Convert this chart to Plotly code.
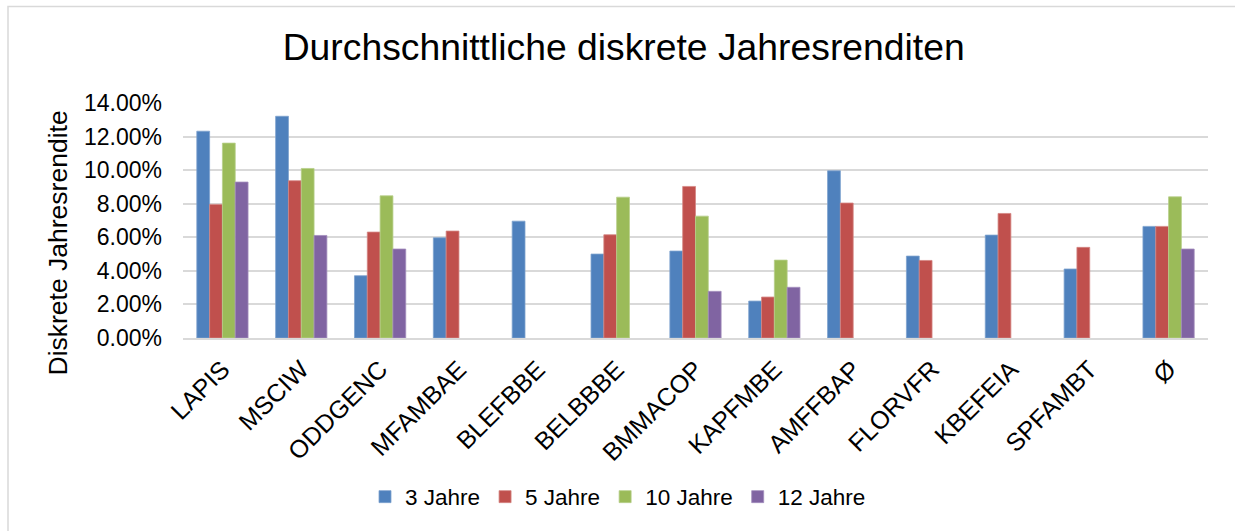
import plotly.graph_objects as go

categories = ["LAPIS", "MSCIW", "ODDGENC", "MFAMBAE", "BLEFBBE", "BELBBBE",
              "BMMACOP", "KAPFMBE", "AMFFBAP", "FLORVFR", "KBEFEIA", "SPFAMBT", "Ø"]

jahre_3 = [0.1232, 0.1321, 0.0371, 0.0597, 0.0696, 0.0500, 0.0518, 0.0220, 0.0996, 0.0488, 0.0613, 0.0411, 0.0665]
jahre_5 = [0.0796, 0.0937, 0.0631, 0.0637, None, 0.0615, 0.0903, 0.0244, 0.0804, 0.0462, 0.0742, 0.0540, 0.0665]
jahre_10 = [0.1161, 0.1010, 0.0847, None, None, 0.0839, 0.0726, 0.0464, None, None, None, None, 0.0841]
jahre_12 = [0.0929, 0.0611, 0.0530, None, None, None, 0.0278, 0.0302, None, None, None, None, 0.0530]

series_names = ["3 Jahre", "5 Jahre", "10 Jahre", "12 Jahre"]
series_values = [jahre_3, jahre_5, jahre_10, jahre_12]
colors = ["#4F81BD", "#C0504D", "#9BBB59", "#8064A2"]
edge_colors = ["#7EA2CE", "#D48583", "#B8CF8A", "#A28DBD"]

y_ticks = [0, 0.02, 0.04, 0.06, 0.08, 0.10, 0.12, 0.14]

FONT = "Liberation Sans, Arial, sans-serif"

fig = go.Figure()
for name, vals, c, ec in zip(series_names, series_values, colors, edge_colors):
    fig.add_trace(go.Bar(
        name=name, x=categories, y=vals,
        marker=dict(color=c, line=dict(color=ec, width=0.8)),
    ))

W, H = 1235, 531
L, R, T, B = 183, 27, 103, 193
pw, ph = W - L - R, H - T - B

def px_x(p):
    return (p - L) / pw

def px_y(p):
    return (H - B - p) / ph

fig.update_layout(
    width=W, height=H,
    margin=dict(l=L, r=R, t=T, b=B, autoexpand=False),
    paper_bgcolor="white", plot_bgcolor="white",
    barmode="group", bargap=0.35, bargroupgap=0,
    font=dict(family=FONT, size=22, color="black"),
    title=dict(text="Durchschnittliche diskrete Jahresrenditen",
               font=dict(family=FONT, size=37.3, color="black"),
               x=0.505, xanchor="center", xref="container",
               y=1 - 47 / H, yanchor="middle", yref="container"),
    xaxis=dict(
        tickangle=-45, tickfont=dict(size=25, family=FONT, color="black"),
        showgrid=False, showline=True, linecolor="#D9D9D9", linewidth=1.5,
        ticks="", ticklabelstandoff=5,
    ),
    yaxis=dict(
        range=[0, 0.14], tickvals=y_ticks, tickformat=".2%",
        tickfont=dict(size=23, family=FONT, color="black"),
        showgrid=True, gridcolor="#D9D9D9", gridwidth=1.5,
        zeroline=False, showline=False, ticks="", ticklabelstandoff=20,
    ),
    legend=dict(
        orientation="h", x=px_x(618), xanchor="center",
        y=px_y(497), yanchor="middle",
        font=dict(size=22.5, family=FONT, color="black"),
        itemwidth=30, traceorder="normal",
    ),
    showlegend=True,
)

fig.add_annotation(
    text="Diskrete Jahresrendite", textangle=-90,
    xref="paper", yref="paper", x=px_x(57), y=px_y(243.5),
    xanchor="center", yanchor="middle", showarrow=False,
    font=dict(size=26.5, family=FONT, color="black"),
)

fig.add_shape(
    type="rect", xref="paper", yref="paper",
    x0=px_x(8), x1=px_x(1260), y0=px_y(560), y1=px_y(6.5),
    line=dict(color="#D9D9D9", width=1.5), fillcolor="rgba(0,0,0,0)",
    layer="below",
)

fig.write_html("out.html", config={"displayModeBar": False},
               post_script="document.body.style.margin='0';document.body.style.overflow='hidden';")
